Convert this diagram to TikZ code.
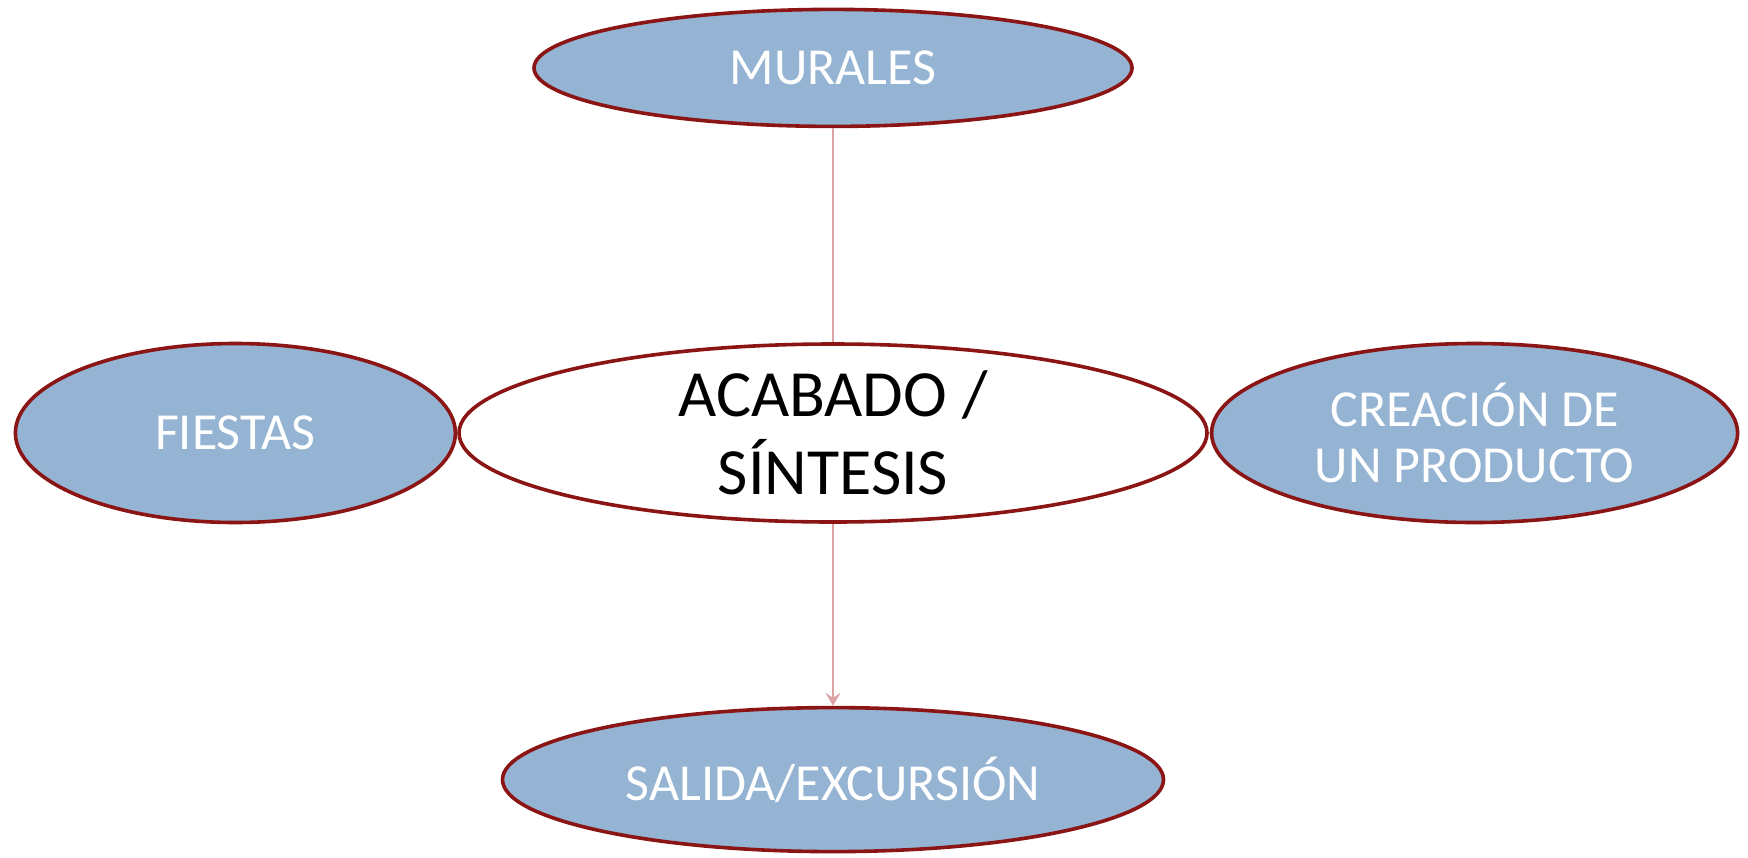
\documentclass[tikz,border=0pt]{standalone}
\usepackage{fontspec}
\setmainfont{Carlito}
\usetikzlibrary{shapes.geometric,positioning,arrows.meta}

\definecolor{rama}{HTML}{95B3D2}
\definecolor{borde}{HTML}{8B1414}
\definecolor{enlace}{HTML}{DBA3A3}

\tikzset{
  basic/.style  = {draw=borde, ellipse, line width=1.8pt, inner sep=0pt, align=center},
  centro/.style = {basic, fill=white, text=black, font=\fontsize{33}{39}\selectfont},
  tema/.style   = {basic, fill=rama, text=white, font=\fontsize{26}{28}\selectfont}
}

\begin{document}
\begin{tikzpicture}[x=0.5pt,y=-0.5pt,>={Stealth[length=6.5pt,width=7.5pt,inset=2.5pt]}]
\useasboundingbox (0,0) rectangle (1748,857);

% central node
\node[centro, minimum width=374pt, minimum height=89pt] (acabado) at (833,433) {ACABADO /\\SÍNTESIS};

% nodes around it, relatively positioned
\node[tema, minimum width=299pt, minimum height=58.5pt, above=107pt of acabado] (murales) {MURALES};
\node[tema, minimum width=220pt, minimum height=89.5pt, left=0pt of acabado] (fiestas) {FIESTAS};
\node[tema, minimum width=263pt, minimum height=89.5pt, right=0.5pt of acabado] (creacion) {CREACIÓN DE\\UN PRODUCTO};
\node[tema, minimum width=330.5pt, minimum height=72pt, below=91pt of acabado] (salida) {SALIDA/EXCURSIÓN};

% connectors
\draw[enlace, line width=1pt] (murales) -- (acabado);
\draw[enlace, line width=1pt, ->] (acabado) -- (salida);
\draw[enlace, line width=1pt] (fiestas) -- (acabado);
\draw[enlace, line width=1pt] (acabado) -- (creacion);
\end{tikzpicture}
\end{document}
